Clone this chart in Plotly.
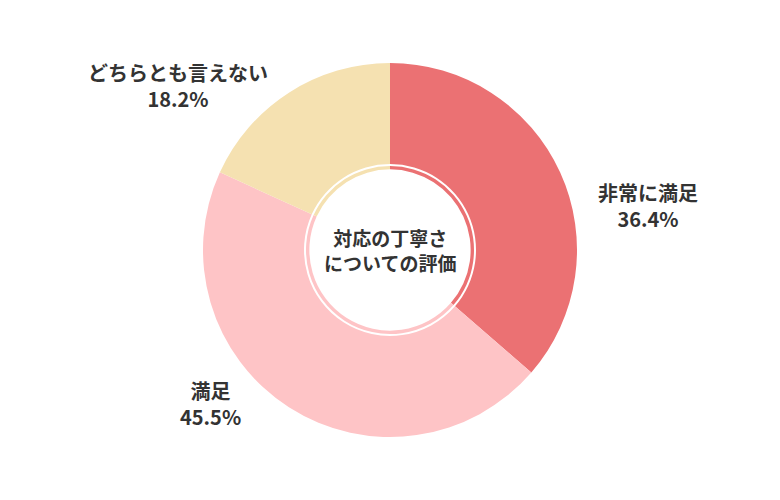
import plotly.graph_objects as go

labels = ["非常に満足", "満足", "どちらとも言えない"]
values = [36.4, 45.5, 18.2]
colors = ["#EB7173", "#FEC4C6", "#F5E1B1"]
center_text = "対応の丁寧さ<br>についての評価"

W, H = 780, 500
OFF = 8  # page offset
cx, cy, R, r_in = 390 - OFF, 250 - OFF, 187, 84

def dom(r):
    return dict(x=[(cx - r) / W, (cx + r) / W], y=[(H - cy - r) / H, (H - cy + r) / H])

fig = go.Figure()
fig.add_trace(go.Pie(labels=labels, values=values, marker=dict(colors=colors, line=dict(width=0)),
                     hole=86 / R, sort=False, direction="clockwise", rotation=0,
                     textinfo="none", hoverinfo="label+percent", domain=dom(R), showlegend=False))
fig.add_trace(go.Pie(labels=labels, values=values, marker=dict(colors=colors, line=dict(width=0)),
                     hole=0.96, sort=False, direction="clockwise", rotation=0,
                     textinfo="none", hoverinfo="skip", domain=dom(r_in), showlegend=False))

font = dict(family="Noto Sans CJK JP", size=20, color="#333333")
pos = [(648, 205), (210, 403), (178, 85)]
for (x, y), l, v in zip(pos, labels, values):
    fig.add_annotation(x=(x - OFF) / W, y=1 - (y - OFF) / H, xref="paper", yref="paper", showarrow=False,
                       xanchor="center", yanchor="middle",
                       text=f"<b>{l}<br>{v}%</b>", font=font, align="center")
fig.add_annotation(x=cx / W, y=1 - cy / H, xref="paper", yref="paper", showarrow=False,
                   xanchor="center", yanchor="middle",
                   text=f"<b>{center_text}</b>", font=dict(family="Noto Sans CJK JP", size=19, color="#333333"),
                   align="center")
fig.update_layout(width=W, height=H, margin=dict(l=0, r=0, t=0, b=0),
                  paper_bgcolor="white", plot_bgcolor="white")
fig.write_html("out.html")
